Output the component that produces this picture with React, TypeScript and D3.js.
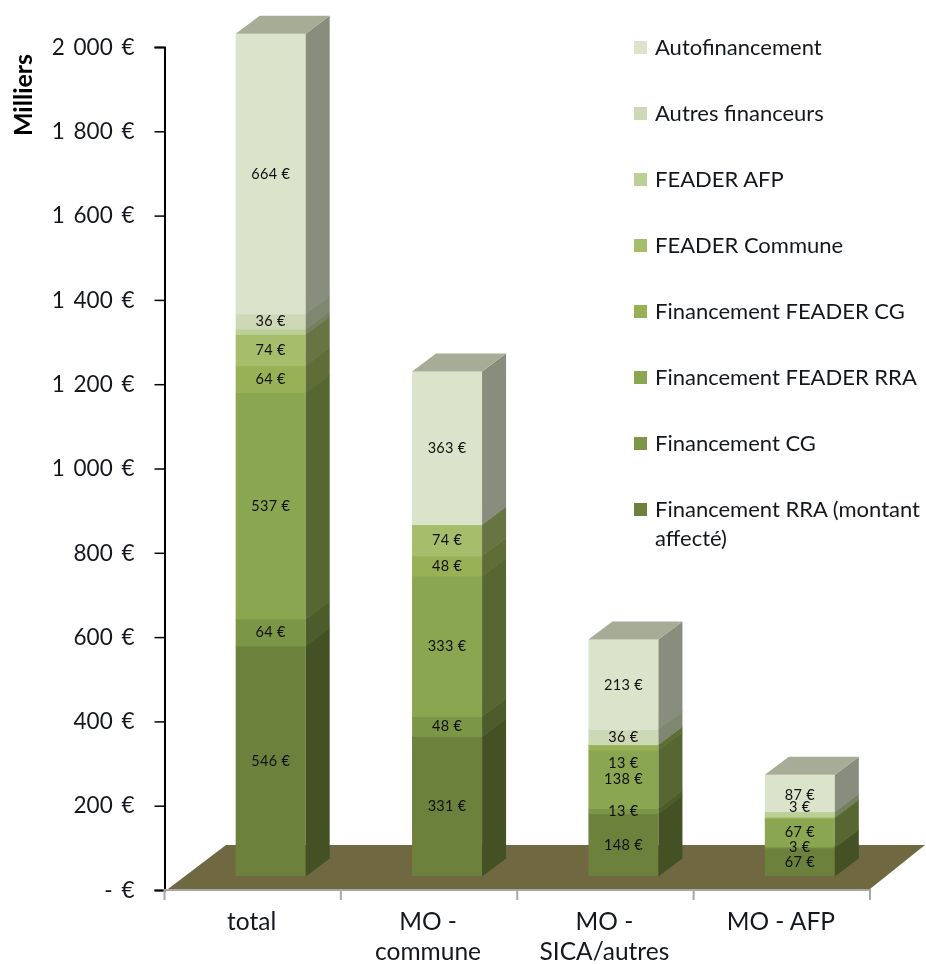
import { useEffect, useRef } from 'react'
import * as d3 from 'd3'

const categories = ['total', 'MO - commune', 'MO - SICA/autres', 'MO - AFP']
const categoryLines = [['total'], ['MO -', 'commune'], ['MO -', 'SICA/autres'], ['MO - AFP']]

// bottom to top of the stack
const seriesNames = [
  'Financement RRA (montant affecté)',
  'Financement CG',
  'Financement FEADER RRA',
  'Financement FEADER CG',
  'FEADER Commune',
  'FEADER AFP',
  'Autres financeurs',
  'Autofinancement',
]
const seriesColors = ['#6c823c', '#7a9646', '#8aa650', '#98b157', '#a6bd6c', '#bccf97', '#cdd9b6', '#dbe4ca']

const rraValues = [546, 331, 148, 67]
const cgValues = [64, 48, 13, 3]
const feaderRraValues = [537, 333, 138, 67]
const feaderCgValues = [64, 48, 13, 3]
const communeValues = [74, 74, 0, 0]
const afpValues = [13, 0, 0, 13]
const autresValues = [36, 0, 36, 0]
const autoValues = [664, 363, 213, 87]
const allValues = [rraValues, cgValues, feaderRraValues, feaderCgValues, communeValues, afpValues, autresValues, autoValues]

const yTicks = [0, 200, 400, 600, 800, 1000, 1200, 1400, 1600, 1800, 2000]

const W = 926
const H = 964
const FONT = 'Lato, "Open Sans", sans-serif'
const INK = '#14181c'

// labels moved by hand in the original so they would not collide
const labelNudge: Record<string, number> = { '3-7': 2, '3-3': -11, '2-3': 16 }

export default function App() {
  const svgRef = useRef<SVGSVGElement>(null)

  useEffect(() => {
    if (!svgRef.current) return
    const svg = d3.select(svgRef.current)
    svg.selectAll('*').remove()

    const axisX = 164.5
    const axisRight = 870
    const baseY = 890
    const depthX = 24
    const depthY = 18
    const frontLift = 14

    const y = d3.scaleLinear().domain([0, 2000]).range([baseY, 47])
    const x = d3.scaleBand<string>().domain(categories).range([axisX, axisRight])
    const barX = d3.scaleBand<string>()
      .domain(categories)
      .range([axisX + 18, axisRight + 18])
      .paddingInner(0.603)
      .paddingOuter(0.3015)

    const rows = categories.map((c, i) => {
      const row: Record<string, number | string> = { category: c }
      seriesNames.forEach((s, j) => { row[s] = allValues[j][i] })
      return row
    })
    const stacked = d3.stack<Record<string, number | string>>().keys(seriesNames)(rows as never)

    // Floor
    const floorLine = d3.line()
    svg.append('path')
      .attr('d', floorLine([
        [168, baseY - 1],
        [226, baseY - 45],
        [925, baseY - 45],
        [870, baseY - 1],
      ]))
      .attr('fill', '#6f6840')

    // Axes
    const fmt = d3.formatLocale({ decimal: ',', thousands: ' ', grouping: [3], currency: ['', ' €'] }).format(',d')
    const yAxis = svg.append('g')
      .attr('transform', `translate(${axisX},0)`)
      .call(
        d3.axisLeft(y)
          .tickValues(yTicks)
          .tickSize(10)
          .tickPadding(20)
          .tickFormat(v => (+v === 0 ? '- €' : `${fmt(+v)} €`))
      )
    yAxis.select('.domain').attr('stroke', '#000').attr('stroke-width', 2)
    yAxis.selectAll('line').attr('stroke', '#000').attr('stroke-width', 1.5)
    yAxis.selectAll('text')
      .attr('font-family', FONT)
      .attr('font-size', 22.5)
      .attr('word-spacing', 3)
      .attr('fill', INK)

    const xAxis = svg.append('g')
      .attr('transform', `translate(0,${baseY})`)
      .call(d3.axisBottom(x).tickSize(0).tickFormat(() => ''))
    xAxis.select('.domain').attr('stroke', '#a8a8a8').attr('stroke-width', 2)
      .attr('d', `M${axisX},10V0H${axisRight}V10`)
    xAxis.selectAll('.tick').remove()
    x.domain().slice(1).forEach(c => {
      xAxis.append('line')
        .attr('x1', x(c)!).attr('x2', x(c)!)
        .attr('y1', 0).attr('y2', 10)
        .attr('stroke', '#a8a8a8').attr('stroke-width', 2)
    })

    // Category labels
    categories.forEach((c, i) => {
      const t = svg.append('text')
        .attr('x', x(c)! + x.bandwidth() / 2 - 1)
        .attr('y', 930)
        .attr('text-anchor', 'middle')
        .attr('font-family', FONT)
        .attr('font-size', 24.5)
        .attr('fill', INK)
      categoryLines[i].forEach((l, k) => {
        t.append('tspan')
          .attr('x', x(c)! + x.bandwidth() / 2 - 1)
          .attr('dy', k === 0 ? 0 : 30)
          .text(l)
      })
    })

    // Bars
    const bars = svg.append('g')
    const bw = barX.bandwidth()
    stacked.forEach((layer, j) => {
      const color = d3.rgb(seriesColors[j])
      const side = d3.rgb(color.r * 0.62, color.g * 0.62, color.b * 0.62).formatHex()
      layer.forEach((d, i) => {
        if (d[1] - d[0] <= 0) return
        const x0 = barX(categories[i])!
        const yTop = y(d[1]) - frontLift
        const yBot = y(d[0]) - frontLift
        // 0.6 of overlap so no white seam shows between two segments
        bars.append('rect')
          .attr('x', x0).attr('y', yTop)
          .attr('width', bw).attr('height', yBot - yTop + (j === 0 ? 0 : 0.6))
          .attr('fill', seriesColors[j])
        bars.append('path')
          .attr('d', floorLine([
            [x0 + bw, yBot + 0.6],
            [x0 + bw + depthX, yBot - depthY + 0.6],
            [x0 + bw + depthX, yTop - depthY],
            [x0 + bw, yTop],
          ]))
          .attr('fill', side)
      })
    })

    // Top caps
    categories.forEach((c, i) => {
      const x0 = barX(c)!
      const total = d3.sum(allValues, v => v[i])
      const yTop = y(total) - frontLift
      bars.append('path')
        .attr('d', floorLine([
          [x0, yTop],
          [x0 + depthX, yTop - depthY],
          [x0 + bw + depthX, yTop - depthY],
          [x0 + bw, yTop],
        ]))
        .attr('fill', '#a6ac95')
    })

    // Value labels (FEADER AFP carries none in the original)
    stacked.forEach((layer, j) => {
      if (seriesNames[j] === 'FEADER AFP') return
      layer.forEach((d, i) => {
        const v = d[1] - d[0]
        if (v <= 0) return
        const nudge = labelNudge[`${i}-${j}`] ?? 0
        svg.append('text')
          .attr('x', barX(categories[i])! + bw / 2)
          .attr('y', (y(d[0]) + y(d[1])) / 2 - frontLift + nudge)
          .attr('dy', '0.35em')
          .attr('text-anchor', 'middle')
          .attr('font-family', FONT)
          .attr('font-size', 14.5)
          .attr('letter-spacing', 0.3)
          .attr('fill', '#111')
          .text(`${v} €`)
      })
    })

    // Legend, top entry first
    const legendY = d3.scalePoint<string>()
      .domain([...seriesNames].reverse())
      .range([47, 509])
    seriesNames.forEach((s, j) => {
      const cy = legendY(s)!
      svg.append('rect')
        .attr('x', 634).attr('y', cy - 6)
        .attr('width', 13).attr('height', 13)
        .attr('fill', seriesColors[j])
      const t = svg.append('text')
        .attr('x', 655).attr('y', cy)
        .attr('dy', '0.35em')
        .attr('font-family', FONT)
        .attr('font-size', 22)
        .attr('fill', INK)
      if (j === 0) {
        t.append('tspan').text('Financement RRA (montant')
        t.append('tspan').attr('x', 655).attr('dy', 29).text('affecté)')
      } else {
        t.text(s)
      }
    })

    // Axis title
    svg.append('text')
      .attr('transform', 'translate(32,95) rotate(-90)')
      .attr('text-anchor', 'middle')
      .attr('font-family', FONT)
      .attr('font-weight', 700)
      .attr('font-size', 25)
      .attr('fill', '#000')
      .text('Milliers')
  }, [])

  return (
    <svg
      ref={svgRef}
      width={W}
      height={H}
      viewBox={`0 0 ${W} ${H}`}
      style={{ position: 'absolute', left: 0, top: 0, display: 'block', filter: 'blur(0.5px)' }}
    />
  )
}
